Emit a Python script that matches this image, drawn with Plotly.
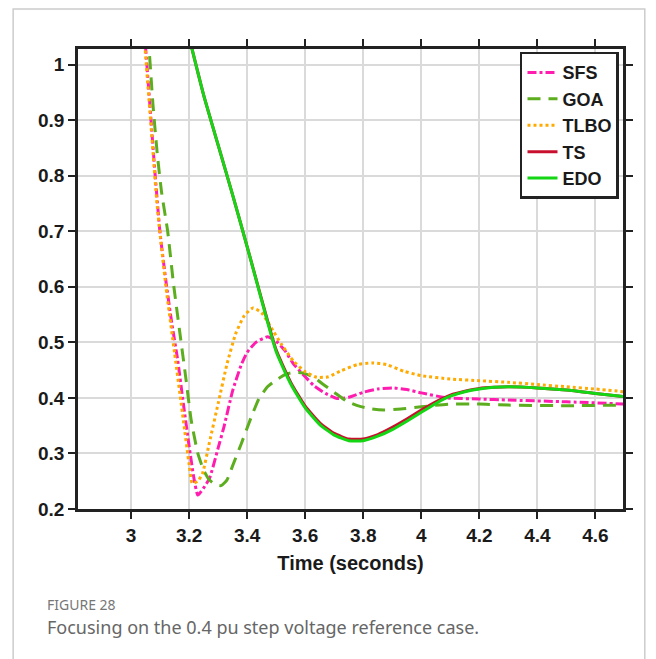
import plotly.graph_objects as go

# ---------------- data ----------------
sfs_t = [3.04, 3.05, 3.06, 3.07, 3.08, 3.09, 3.10, 3.12, 3.14, 3.16, 3.18, 3.20, 3.215, 3.23,
         3.25, 3.27, 3.30, 3.32, 3.35, 3.38, 3.40, 3.43, 3.47, 3.50, 3.53, 3.56, 3.60, 3.63,
         3.67, 3.71, 3.75, 3.80, 3.85, 3.90, 3.95, 4.00, 4.09, 4.20, 4.30, 4.50, 4.70]
sfs_v = [1.10, 1.03, 0.96, 0.89, 0.82, 0.755, 0.695, 0.61, 0.535, 0.47, 0.39, 0.313, 0.26, 0.225,
         0.238, 0.255, 0.31, 0.348, 0.413, 0.46, 0.482, 0.50, 0.51, 0.502, 0.485, 0.461, 0.438, 0.422,
         0.408, 0.399, 0.401, 0.41, 0.416, 0.418, 0.415, 0.409, 0.40, 0.398, 0.396, 0.393, 0.389]

goa_t = [3.05, 3.063, 3.075, 3.09, 3.105, 3.126, 3.145, 3.167, 3.19, 3.207, 3.23, 3.25, 3.27,
         3.29, 3.31, 3.33, 3.35, 3.38, 3.41, 3.44, 3.47, 3.50, 3.53, 3.56, 3.59, 3.63, 3.66,
         3.70, 3.74, 3.78, 3.83, 3.87, 3.93, 4.00, 4.10, 4.20, 4.30, 4.50, 4.70]
goa_v = [1.09, 1.02, 0.93, 0.84, 0.77, 0.70, 0.61, 0.521, 0.43, 0.36, 0.30, 0.27, 0.252,
         0.244, 0.242, 0.252, 0.278, 0.318, 0.36, 0.398, 0.42, 0.432, 0.442, 0.446, 0.445, 0.437, 0.425,
         0.41, 0.395, 0.386, 0.38, 0.378, 0.38, 0.384, 0.389, 0.389, 0.387, 0.386, 0.387]

tlbo_t = [3.04, 3.048, 3.07, 3.09, 3.12, 3.15, 3.18, 3.20, 3.211, 3.23, 3.246, 3.27, 3.30, 3.33,
          3.36, 3.39, 3.42, 3.45, 3.49, 3.52, 3.56, 3.60, 3.64, 3.68, 3.72, 3.78, 3.83, 3.88,
          3.94, 4.00, 4.10, 4.20, 4.30, 4.40, 4.50, 4.60, 4.70]
tlbo_v = [1.09, 1.03, 0.88, 0.745, 0.60, 0.48, 0.36, 0.28, 0.246, 0.25, 0.264, 0.32, 0.39, 0.46,
          0.515, 0.548, 0.562, 0.553, 0.52, 0.495, 0.466, 0.447, 0.437, 0.438, 0.448, 0.46, 0.463, 0.46,
          0.448, 0.44, 0.434, 0.431, 0.428, 0.424, 0.42, 0.416, 0.411]

ts_t = [3.19, 3.25, 3.30, 3.35, 3.40, 3.45, 3.50, 3.55, 3.60, 3.65, 3.70, 3.75, 3.80, 3.85,
        3.90, 3.95, 4.00, 4.05, 4.10, 4.15, 4.20, 4.25, 4.30, 4.40, 4.50, 4.60, 4.70]
ts_v = [1.07, 0.945, 0.855, 0.765, 0.672, 0.577, 0.486, 0.428, 0.385, 0.355, 0.336, 0.326, 0.326, 0.334,
        0.347, 0.362, 0.378, 0.393, 0.405, 0.412, 0.417, 0.419, 0.42, 0.418, 0.414, 0.408, 0.402]

edo_t = [3.19, 3.25, 3.30, 3.35, 3.40, 3.45, 3.50, 3.55, 3.60, 3.65, 3.70, 3.75, 3.80, 3.85,
         3.90, 3.95, 4.00, 4.05, 4.10, 4.15, 4.20, 4.25, 4.30, 4.40, 4.50, 4.60, 4.70]
edo_v = [1.07, 0.945, 0.855, 0.765, 0.672, 0.575, 0.483, 0.425, 0.382, 0.352, 0.333, 0.323, 0.323, 0.331,
         0.343, 0.358, 0.374, 0.39, 0.403, 0.411, 0.416, 0.419, 0.42, 0.418, 0.414, 0.408, 0.402]

x_ticks = [3, 3.2, 3.4, 3.6, 3.8, 4, 4.2, 4.4, 4.6]
x_tick_text = ["3", "3.2", "3.4", "3.6", "3.8", "4", "4.2", "4.4", "4.6"]
y_ticks = [0.2, 0.3, 0.4, 0.5, 0.6, 0.7, 0.8, 0.9, 1.0]
y_tick_text = ["0.2", "0.3", "0.4", "0.5", "0.6", "0.7", "0.8", "0.9", "1"]

# ---------------- figure ----------------
fig = go.Figure()
series = [
    ("SFS", sfs_t, sfs_v, "#ff1cae", "9px,3px,3px,3px"),
    ("GOA", goa_t, goa_v, "#5cae1e", "13px,8px"),
    ("TLBO", tlbo_t, tlbo_v, "#ffaa00", "3px,3px"),
    ("TS", ts_t, ts_v, "#c8102e", "solid"),
    ("EDO", edo_t, edo_v, "#14d614", "solid"),
]
for name, t, v, col, dash in series:
    fig.add_trace(go.Scatter(
        x=t, y=v, mode="lines", name=name,
        line=dict(color=col, width=3, dash=dash, shape="spline", smoothing=0.5),
    ))

tick_font = dict(family="Liberation Sans, Arial, sans-serif", size=19, color="#1a1a1a", weight="bold")
axis_common = dict(
    showline=True, linecolor="#222222", linewidth=2.5, mirror="allticks",
    ticks="outside", ticklen=7, tickwidth=2, tickcolor="#222222",
    showgrid=True, gridcolor="#dadada", gridwidth=2, zeroline=False,
    tickfont=tick_font,
)
fig.update_xaxes(range=[2.817, 4.695], tickvals=x_ticks, ticktext=x_tick_text,
                 title=dict(text="Time (seconds)", standoff=12,
                            font=dict(family="Liberation Sans, Arial, sans-serif", size=20,
                                      color="#1a1a1a", weight="bold")),
                 **axis_common)
fig.update_yaxes(range=[0.2, 1.028], tickvals=y_ticks, ticktext=y_tick_text, **axis_common)

fig.update_layout(
    width=648, height=651,
    margin=dict(l=70, r=33, t=41, b=150),
    paper_bgcolor="white", plot_bgcolor="white",
    showlegend=True,
    legend=dict(x=0.811, y=0.994, xanchor="left", yanchor="top",
                bgcolor="white", bordercolor="#222222", borderwidth=2.5,
                font=dict(family="Liberation Sans, Arial, sans-serif", size=18,
                          color="#1a1a1a", weight="bold"),
                itemwidth=30, tracegroupgap=0),
    shapes=[dict(type="rect", xref="paper", yref="paper",
                 x0=-0.119, x1=1.040, y0=-0.4, y1=1.087,
                 line=dict(color="#cccccc", width=1.5), layer="below")],
    annotations=[
        dict(text="FIGURE 28", xref="paper", yref="paper", x=-0.0606, y=-0.207,
             xanchor="left", yanchor="middle", showarrow=False,
             font=dict(family="Noto Sans, Open Sans, sans-serif", size=14, color="#777777")),
        dict(text="Focusing on the 0.4 pu step voltage reference case.", xref="paper", yref="paper",
             x=-0.0606, y=-0.257, xanchor="left", yanchor="middle", showarrow=False,
             font=dict(family="Noto Sans, Open Sans, sans-serif", size=18, color="#666666")),
    ],
)

fig.write_html("out.html")
